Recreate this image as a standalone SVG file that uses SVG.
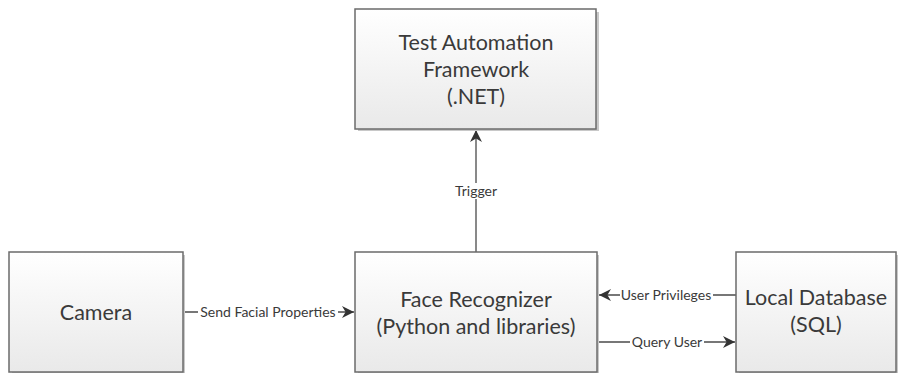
<svg xmlns="http://www.w3.org/2000/svg" width="899" height="374" viewBox="0 0 899 374">
<defs>
<linearGradient id="g" x1="0" y1="0" x2="0" y2="1">
<stop offset="0" stop-color="#ffffff"/>
<stop offset="1" stop-color="#e9e9e9"/>
</linearGradient>
<marker id="ah" viewBox="0 0 10 10" refX="10" refY="5" markerWidth="12" markerHeight="12" markerUnits="userSpaceOnUse" orient="auto">
<path d="M0,0 L10,5 L0,10 L3,5 Z" fill="#333"/>
</marker>
</defs>
<style>
.box{fill:url(#g);stroke:#6b6b6b;stroke-width:1.5}
.sh{fill:#c8c8c8}
.t{font-family:Lato,"Liberation Sans",sans-serif;font-size:21.5px;fill:#3a3a3a;text-anchor:middle}
.l{font-family:Lato,"Liberation Sans",sans-serif;font-size:14px;fill:#3a3a3a;text-anchor:middle}
.c{stroke:#4a4a4a;stroke-width:1.3;fill:none;marker-end:url(#ah)}
.bg{fill:#fff}
</style>
<g id="connectors">
<line class="c" x1="184" y1="312" x2="354" y2="312"/>
<rect class="bg" x="198" y="304" width="140" height="16"/>
<text class="l" x="268" y="317">Send Facial Properties</text>
<line class="c" x1="476" y1="252" x2="476" y2="130"/>
<rect class="bg" x="453" y="183" width="46" height="16"/>
<text class="l" x="476" y="196">Trigger</text>
<line class="c" x1="736" y1="295" x2="599" y2="295"/>
<rect class="bg" x="620" y="287" width="93" height="16"/>
<text class="l" x="666" y="300">User Privileges</text>
<line class="c" x1="599" y1="342" x2="735" y2="342"/>
<rect class="bg" x="630" y="334" width="74" height="16"/>
<text class="l" x="667" y="347">Query User</text>
</g>
<g id="tester">
<rect class="sh" x="358" y="12" width="241" height="119"/>
<rect class="box" x="355" y="9" width="241" height="120"/>
<text class="t" x="476" y="50">Test Automation</text>
<text class="t" x="476" y="77">Framework</text>
<text class="t" x="476" y="104">(.NET)</text>
</g>
<g id="camera">
<rect class="sh" x="12" y="255" width="173" height="118"/>
<rect class="box" x="9" y="252" width="174" height="120"/>
<text class="t" x="96" y="320">Camera</text>
</g>
<g id="face">
<rect class="sh" x="358" y="255" width="241" height="118"/>
<rect class="box" x="355" y="252" width="242" height="120"/>
<text class="t" x="476" y="307">Face Recognizer</text>
<text class="t" x="476" y="334">(Python and libraries)</text>
</g>
<g id="db">
<rect class="sh" x="739" y="255" width="159" height="118"/>
<rect class="box" x="736" y="252" width="160" height="120"/>
<text class="t" x="816" y="305">Local Database</text>
<text class="t" x="816" y="332">(SQL)</text>
</g>
</svg>
